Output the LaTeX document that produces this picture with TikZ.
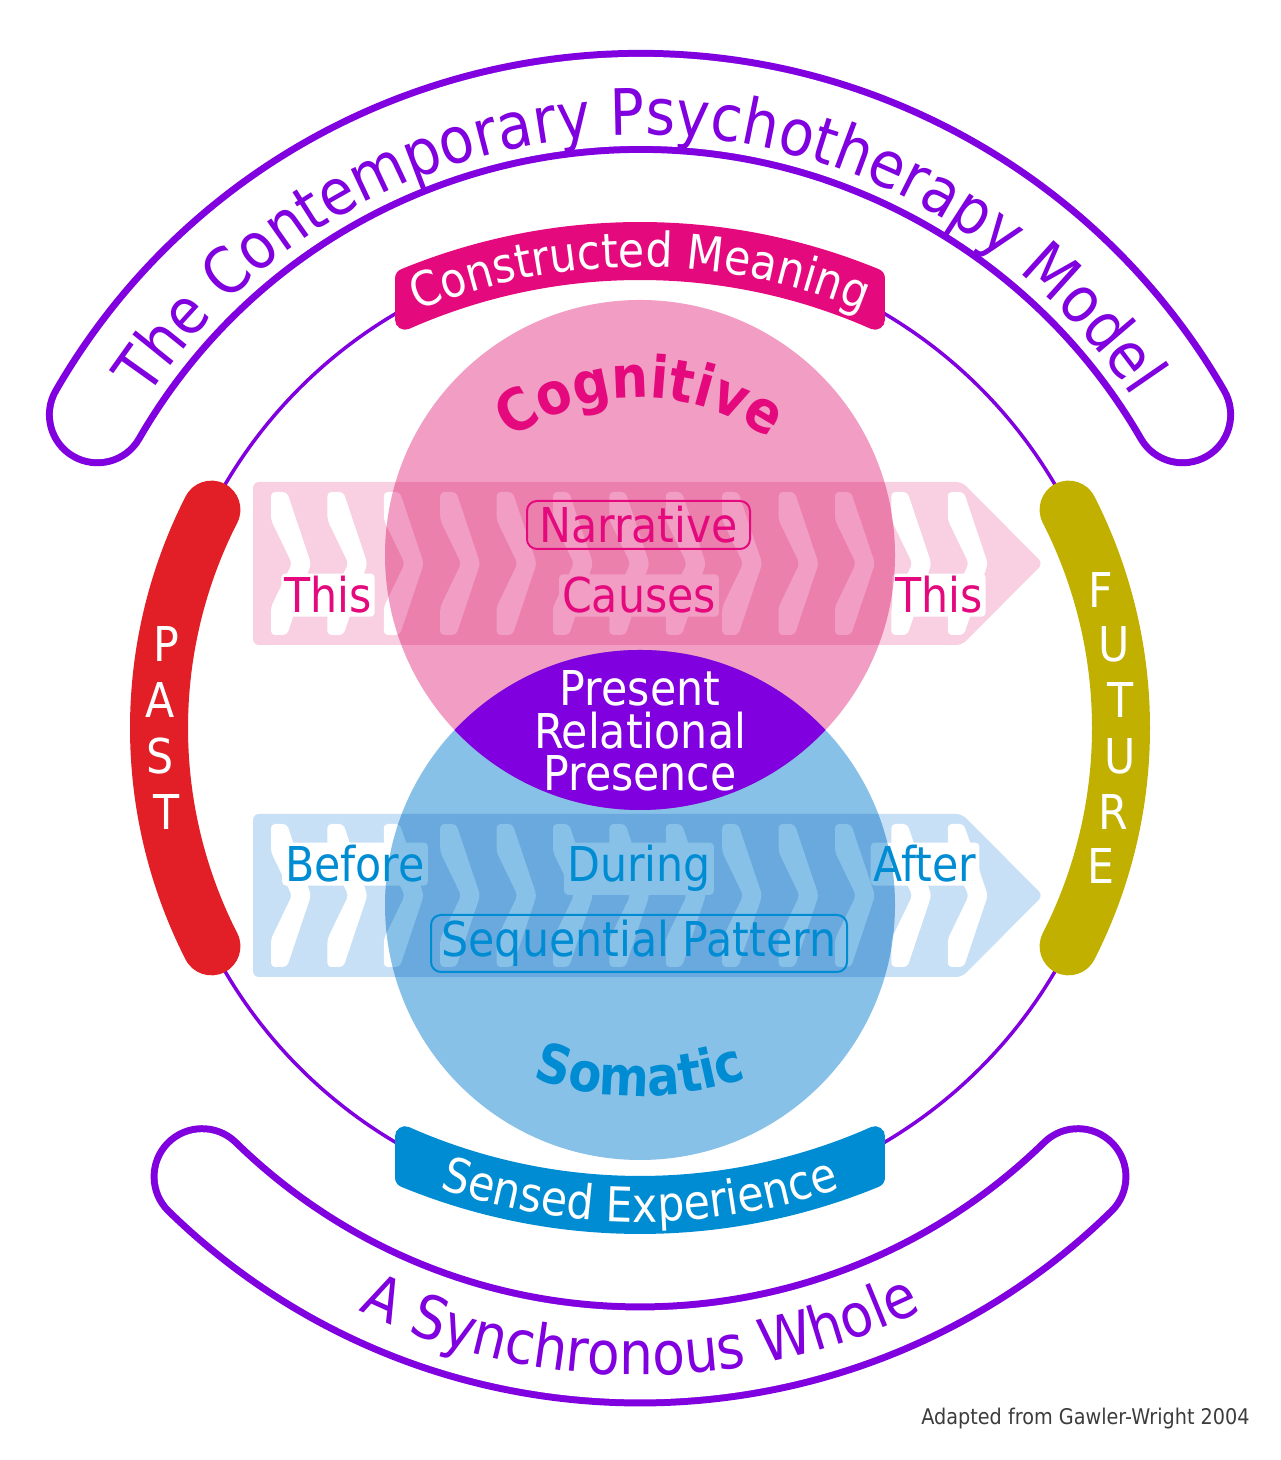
\documentclass[tikz,border=0pt]{standalone}
\usepackage{fontspec}
\setmainfont[FakeStretch=0.89]{DejaVu Sans}
\usepackage{tikz}
\usetikzlibrary{decorations.text}
\definecolor{ppurple}{RGB}{128,0,224}
\definecolor{pmagenta}{RGB}{228,10,126}
\definecolor{pblue}{RGB}{0,140,210}
\definecolor{pred}{RGB}{226,31,38}
\definecolor{pyellow}{RGB}{193,176,0}
\definecolor{cogfill}{RGB}{242,158,196}
\definecolor{somfill}{RGB}{136,193,232}
\definecolor{pinkband}{RGB}{248,208,226}
\definecolor{blueband}{RGB}{199,224,245}
\definecolor{srcgray}{RGB}{60,60,60}
\tikzset{%
  band/.style = {draw=ppurple, line width=3.5pt, double=white,
        double distance=44.5pt, line cap=round},
  pill/.style = {line width=10pt, line join=round},
  sidebar/.style = {line width=29pt, line cap=round},
  chev/.style = {fill=white, rounded corners=2pt},
  lbl/.style = {font=\fontsize{24}{24}\selectfont, inner sep=1.5pt,
        anchor=base},
  lblbg/.style = {lbl, fill=white, rounded corners=2pt},
  tag/.style = {draw, rounded corners=5pt, line width=1pt, inner sep=0pt,
        font=\fontsize{24}{24}\selectfont},
  barletter/.style = {text=white, font=\fontsize{24}{24}\selectfont,
        inner sep=0pt}
}
\newcommand{\chevron}[2]{% left x, top y
  \fill[chev] (#1,#2) -- ++(16,0) -- ++(24,-71.5) -- ++(-24,-71.5)
    -- ++(-16,0) -- ++(0,28) -- ++(21,43.5) -- ++(-21,43.5) -- cycle;
}

\begin{document}
\begin{tikzpicture}[x=0.5pt,y=0.5pt]
\fill[white] (0,0) rectangle (1280,1460);
\useasboundingbox (0,0) rectangle (1280,1460);

\coordinate (c0) at (640,732);
\coordinate (cog) at (640,905);
\coordinate (som) at (640,555);
\coordinate (cm) at (640,610);
\coordinate (se) at (640,854);
\coordinate (cogtxt) at (640,839);
\coordinate (somtxt) at (640,694);

% outer bands
\draw[band] ([shift={(150:626.5)}]c0) arc[start angle=150,end angle=30,radius=626.5];
\draw[band] ([shift={(225.7:627)}]c0) arc[start angle=225.7,end angle=314.3,radius=627];

% whole circle
\draw[ppurple, line width=1.75pt] (c0) circle[radius=481];

% process bands
\fill[pinkband, rounded corners=3pt] (253,815) -- (253,978) -- (962,978)
    -- (1043,896.5) -- (962,815) -- cycle;
\fill[blueband, rounded corners=3pt] (253,483) -- (253,646) -- (962,646)
    -- (1043,564.5) -- (962,483) -- cycle;
\foreach \k in {0,...,12} {
  \chevron{271+56.4*\k}{968}
  \chevron{271+56.4*\k}{636}
}
\node[lblbg] (thisLbg) at (328,847) {\phantom{This}};
\node[lblbg] (causesbg) at (639,847) {\phantom{Causes}};
\node[lblbg] (thisRbg) at (939,847) {\phantom{This}};
\node[lblbg] (beforebg) at (355,578) {\phantom{Before}};
\node[lblbg] (duringbg) at (639,578) {\phantom{During}};
\node[lblbg] (afterbg) at (925,578) {\phantom{After}};

% the two circles
\fill[cogfill, blend mode=multiply] (cog) circle[radius=255];
\fill[somfill, blend mode=multiply] (som) circle[radius=255];
\begin{scope}
  \clip (cog) circle[radius=255];
  \fill[ppurple] (som) circle[radius=255];
\end{scope}

% band labels
\node[lbl, text=pmagenta] (thisL) at (328,847) {This};
\node[lbl, text=pmagenta] (causes) at (639,847) {Causes};
\node[lbl, text=pmagenta] (thisR) at (939,847) {This};
\node[lbl, text=pblue] (before) at (355,578) {Before};
\node[lbl, text=pblue] (during) at (639,578) {During};
\node[lbl, text=pblue] (after) at (925,578) {After};
\node[tag, draw=pmagenta, text=pmagenta, minimum width=111.5pt,
    minimum height=24pt] (narr) at (638.5,935) {Narrative};
\node[tag, draw=pblue, text=pblue, minimum width=208pt,
    minimum height=28.5pt] (seq) at (639,516.5) {Sequential Pattern};

% centre
\node[text=white, align=center, inner sep=0pt,
    font=\fontsize{24}{21.25}\selectfont] (prp) at (640,729)
    {Present\\Relational\\Presence};

% bars on the circle
\fill[pmagenta, draw=pmagenta, pill] ([shift={(112.35:618)}]cm)
    arc[start angle=112.35,end angle=67.65,radius=618]
    -- ([shift={(66.10:580)}]cm)
    arc[start angle=66.10,end angle=113.90,radius=580] -- cycle;
\fill[pblue, draw=pblue, pill] ([shift={(247.65:618)}]se)
    arc[start angle=247.65,end angle=292.35,radius=618]
    -- ([shift={(293.90:580)}]se)
    arc[start angle=293.90,end angle=246.10,radius=580] -- cycle;
\draw[pred, sidebar] ([shift={(153:481)}]c0) arc[start angle=153,end angle=207,radius=481];
\draw[pyellow, sidebar] ([shift={(-27:481)}]c0) arc[start angle=-27,end angle=27,radius=481];
\foreach \ch [count=\i] in {P,A,S,T}
  \node[barletter] (past\i) at ([shift={({170+(\i-1)*6.67}:481)}]c0) {\ch};
\foreach \ch [count=\i] in {F,U,T,U,R,E}
  \node[barletter] (fut\i) at ([shift={({16.7-(\i-1)*6.68}:481)}]c0) {\ch};

% curved texts
\path[decorate, decoration={text along path, text align=center,
    text color=white, text={|\fontsize{24}{24}\selectfont|Constructed Meaning}}]
    ([shift={(125:583)}]cm) arc[start angle=125,end angle=55,radius=583];
\path[decorate, decoration={text along path, text align=center,
    text color=white, text={|\fontsize{24}{24}\selectfont|Sensed Experience}}]
    ([shift={(235:616)}]se) arc[start angle=235,end angle=305,radius=616];
\path[decorate, decoration={text along path, text align=center,
    text color=pmagenta, text={|\bfseries\fontsize{29}{29}\selectfont|Cognitive}}]
    ([shift={(150:223)}]cogtxt) arc[start angle=150,end angle=30,radius=223];
\path[decorate, decoration={text along path, text align=center,
    text color=pblue, text={|\bfseries\fontsize{27}{27}\selectfont|Somatic}}]
    ([shift={(240:330)}]somtxt) arc[start angle=240,end angle=300,radius=330];
\path[decorate, decoration={text along path, text align=center,
    text color=ppurple,
    text={|\fontsize{32}{32}\selectfont|The Contemporary Psychotherapy Model}}]
    ([shift={(150:593)}]c0) arc[start angle=150,end angle=30,radius=593];
\path[decorate, decoration={text along path, text align=center,
    text color=ppurple,
    text={|\fontsize{30}{30}\selectfont|A Synchronous Whole}}]
    ([shift={(225:647)}]c0) arc[start angle=225,end angle=315,radius=647];

\node[anchor=base east, text=srcgray, inner sep=0pt,
    font=\fontsize{10.8}{12}\selectfont] (src) at (1250,35)
    {Adapted from Gawler-Wright 2004};
\end{tikzpicture}
\end{document}
